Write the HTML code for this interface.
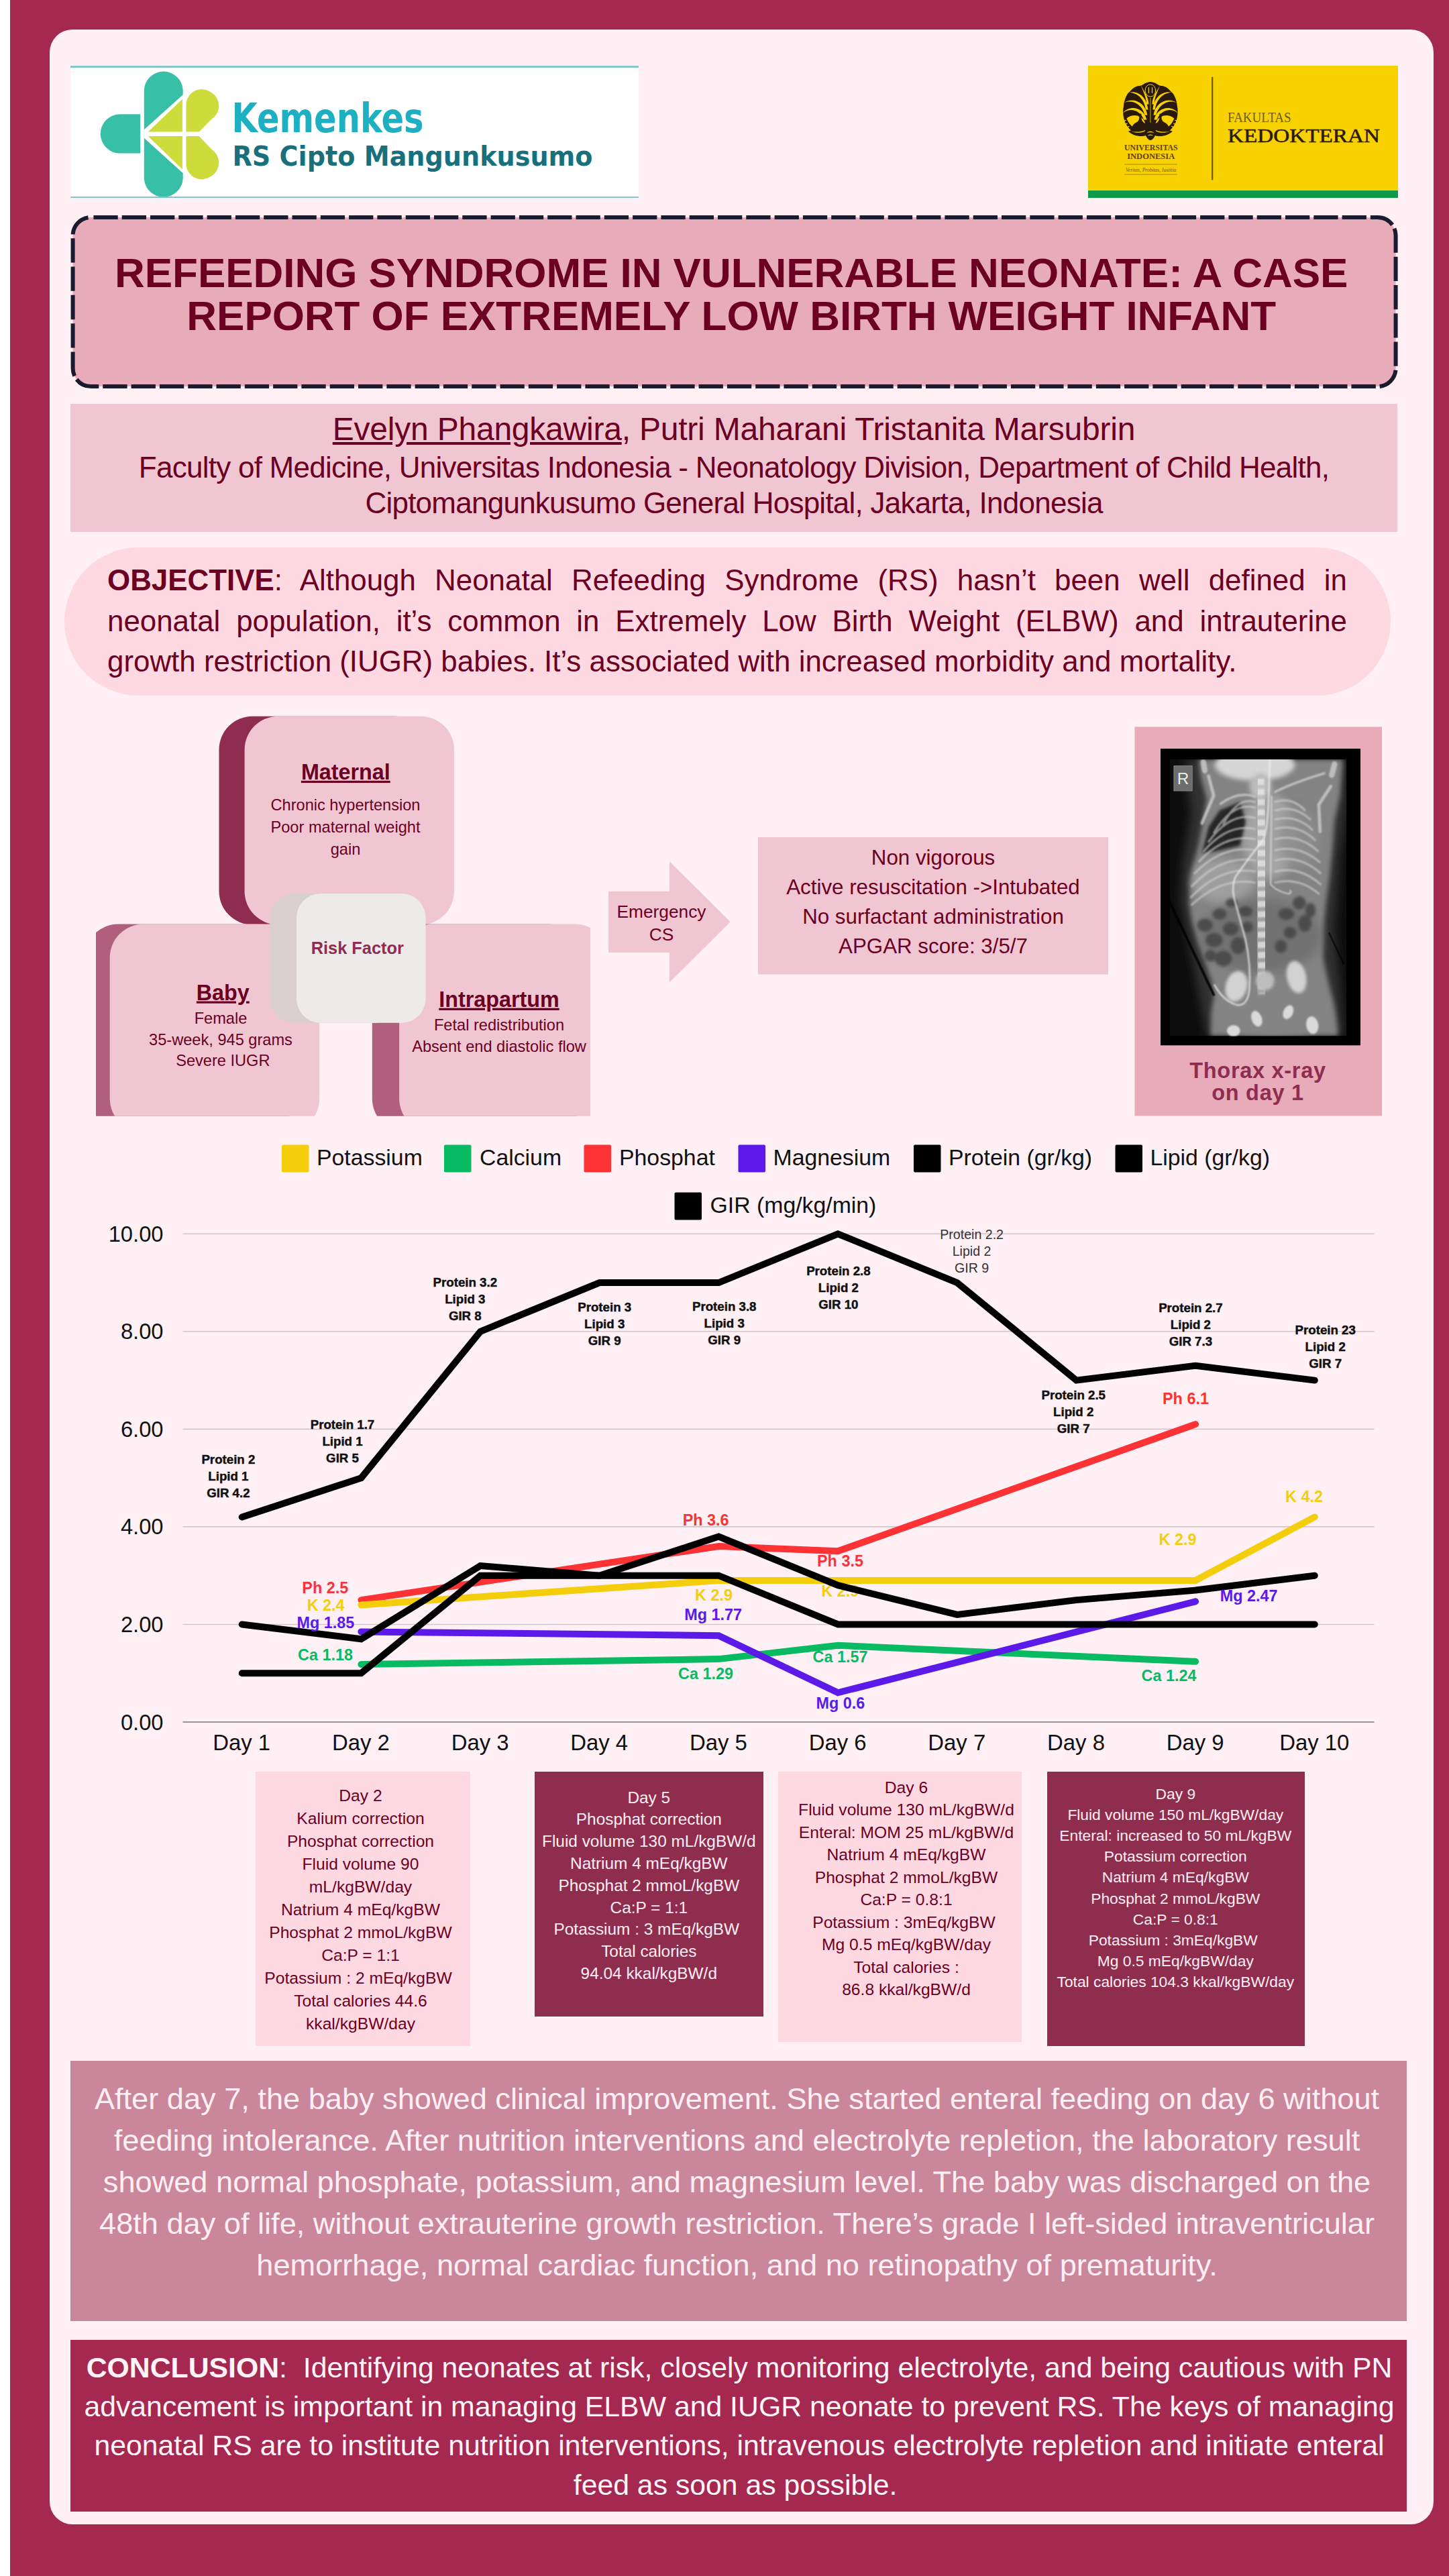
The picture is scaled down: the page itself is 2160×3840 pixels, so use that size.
<!DOCTYPE html>
<html lang="en">
<head>
<meta charset="utf-8">
<title>Refeeding Syndrome in Vulnerable Neonate</title>
<style>
*{box-sizing:border-box;margin:0;padding:0}
html,body{width:2160px;height:3840px;overflow:hidden}
body{background:#A52851;font-family:"Liberation Sans",Arial,sans-serif;position:relative;color:#6B0022}
.abs{position:absolute}
#strip{left:0;top:0;width:15px;height:3840px;background:#fff}
#card{left:74px;top:44px;width:2063px;height:3719px;background:#FFF0F5;border-radius:34px}
#kem{left:105px;top:98px;width:847px;height:197px;background:#fff;border-top:3px solid #86C4CE;border-bottom:2px solid #86C4CE}
#fkui{left:1622px;top:98px;width:462px;height:197px;background:#F8D100;border-bottom:11px solid #0E9A48}
#title{left:105px;top:320px;width:1980px;height:260px}
#titletext{left:100.2px;top:375px;width:1980px;text-align:center;font-weight:bold;font-size:62px;line-height:64.3px;letter-spacing:-0.05px;color:#6B0022;white-space:nowrap}
#auth{left:105px;top:602px;width:1978px;height:191px;background:#F0C6D3;text-align:center;color:#6B0022}
#auth .l1{position:absolute;left:0;width:100%;top:11.4px;font-size:48px;line-height:54px;letter-spacing:-0.22px}
#auth .l2{position:absolute;left:0;width:100%;top:67.7px;font-size:44px;line-height:54px;letter-spacing:-0.74px}
#auth .l3{position:absolute;left:0;width:100%;top:121.4px;font-size:44px;line-height:54px;letter-spacing:-0.75px}
#obj{left:96px;top:816px;width:1977px;height:221px;background:#FFD9E2;border-radius:111px}
#objtext{left:160px;top:835px;width:1848px;font-size:43.88px;line-height:60.7px;text-align:justify;color:#6B0022}
#objtext div{text-align:justify;text-align-last:justify;white-space:nowrap}
#objtext div.last{text-align-last:left}
#disc{left:105px;top:3072px;width:1992px;height:388px;background:#CA879C}
#disctext{left:102.5px;top:3098px;width:1992px;text-align:center;font-size:45.17px;line-height:62px;color:#FFEEF3;white-space:nowrap}
#conc{left:105px;top:3488px;width:1992px;height:256px;background:#A52851}
#conctext{left:106px;top:3499.5px;width:1992px;text-align:center;font-size:42.78px;line-height:58.4px;color:#FFF4F7;white-space:nowrap}
.daytxt{text-align:center;white-space:nowrap}
</style>
</head>
<body>
<div id="strip" class="abs"></div>
<div id="card" class="abs"></div>

<!-- LOGOS -->
<div id="kem" class="abs"></div>
<svg class="abs" style="left:105px;top:98px;width:847px;height:197px" viewBox="105 98 847 197">
<defs><clipPath id="kc"><rect x="105" y="101" width="847" height="192"/></clipPath><filter id="kb"><feGaussianBlur stdDeviation="0.7"/></filter></defs>
<g clip-path="url(#kc)" filter="url(#kb)">
<path d="M214.8,193.2 L214.8,133.9 A29.0,29.0 0 0 1 272.7,133.9 L272.7,141.3 Z" fill="#38BFA7"/>
<path d="M214.8,205.7 L214.8,266.4 A29.0,29.0 0 0 0 272.7,266.4 L272.7,258.1 Z" fill="#38BFA7"/>
<path d="M209.2,170.3 L178.9,170.3 A29.1,29.1 0 0 0 178.9,228.6 L209.2,228.6 Z" fill="#38BFA7"/>
<polygon points="220.8,196.5 271.9,147.7 271.9,196.5" fill="#CDDB3A"/>
<polygon points="220.8,202.9 271.9,202.9 271.9,252.6" fill="#CDDB3A"/>
<path d="M277.4,196.5 L277.4,154.6 A23.5,23.5 0 0 1 314.1,137.2 A23.5,23.5 0 0 1 315.5,177.5 L296.8,196.5 Z" fill="#CDDB3A"/>
<path d="M277.4,202.9 L277.4,245.7 A23.5,23.5 0 0 0 314.1,263.1 A23.5,23.5 0 0 0 315.5,222.8 L296.8,202.9 Z" fill="#CDDB3A"/>
</g>
<text x="345.5" y="196.8" font-family="'DejaVu Sans Condensed','DejaVu Sans',sans-serif" font-weight="bold" font-size="61" fill="#1CB0C2" textLength="286" lengthAdjust="spacingAndGlyphs">Kemenkes</text>
<text x="346.5" y="247.3" font-family="'DejaVu Sans Condensed','DejaVu Sans',sans-serif" font-weight="bold" font-size="40.7" fill="#17707C" textLength="537" lengthAdjust="spacingAndGlyphs">RS Cipto Mangunkusumo</text>
</svg>
<div id="fkui" class="abs"></div>
<svg class="abs" style="left:1622px;top:98px;width:462px;height:197px" viewBox="1622 98 462 197">
<line x1="1807.2" x2="1807.2" y1="114.7" y2="268.3" stroke="#6E5A12" stroke-width="2.2"/>
<g transform="translate(1714.9,165.4)">
<path fill="#2A1A0E" d="M0,-43.5 C9,-43 12,-37 17,-37.5 C25,-37 29,-30 33,-27 C38,-20 39.5,-13 40,-7 C41.5,0 40.5,8 39,13 C37,20 33,25 29,29 L33,30 C27,37 14,39 7,36.5 C5,41 2,43.5 0,43.5 C-2,43.5 -5,41 -7,36.5 C-14,39 -27,37 -33,30 L-29,29 C-33,25 -37,20 -39,13 C-40.5,8 -41.5,0 -40,-7 C-39.5,-13 -38,-20 -33,-27 C-29,-30 -25,-37 -17,-37.5 C-12,-37 -9,-43 0,-43.5 Z"/>
<g fill="#F8D100">
<path d="M-2.5,-10 C-3,-22 -9,-28 -14,-38 C-11,-29 -6.5,-22 -5.5,-10 Z"/>
<path d="M-3.5,-2 C-5,-22 -20,-31 -32,-27.5 C-21,-28 -9,-19 -7,-2 Z"/>
<path d="M-4.5,6 C-8,-14 -27,-21 -39.5,-12 C-27,-17.5 -12.5,-10 -8.5,6 Z"/>
<path d="M-5.5,13 C-10,-5 -30,-10 -41,3 C-30,-5.5 -15,-1 -10,13 Z"/>
<path d="M-7.5,19 C-11,6 -26,3 -35.5,11 C-33,17 -30,21 -26,24 C-20,20 -13,19 -7.5,19 Z"/>
<path d="M-36.6,13.2 L-40.5,14.6 L-40.2,15.8 L-36.2,14.4 Z M-34.6,17.8 L-38.4,19.8 L-37.8,21 L-34,19 Z M-32,22 L-35.4,24.6 L-34.6,25.6 L-31.2,23 Z"/>
<path d="M-8,30 C-14,33 -22,33 -29,30.5 C-22,31.5 -14,31.5 -8,28.5 Z"/>
<path d="M2.5,-10 C3,-22 9,-28 14,-38 C11,-29 6.5,-22 5.5,-10 Z"/>
<path d="M3.5,-2 C5,-22 20,-31 32,-27.5 C21,-28 9,-19 7,-2 Z"/>
<path d="M4.5,6 C8,-14 27,-21 39.5,-12 C27,-17.5 12.5,-10 8.5,6 Z"/>
<path d="M5.5,13 C10,-5 30,-10 41,3 C30,-5.5 15,-1 10,13 Z"/>
<path d="M7.5,19 C11,6 26,3 35.5,11 C33,17 30,21 26,24 C20,20 13,19 7.5,19 Z"/>
<path d="M36.6,13.2 L40.5,14.6 L40.2,15.8 L36.2,14.4 Z M34.6,17.8 L38.4,19.8 L37.8,21 L34,19 Z M32,22 L35.4,24.6 L34.6,25.6 L31.2,23 Z"/>
<path d="M8,30 C14,33 22,33 29,30.5 C22,31.5 14,31.5 8,28.5 Z"/>
<path d="M-5.5,33 C-3,29.5 3,29.5 5.5,33 C3,31.5 -3,31.5 -5.5,33 Z"/><path d="M-4,37 C-2,34.5 2,34.5 4,37 C2,36 -2,36 -4,37 Z"/>
</g>
<g fill="none" stroke="#F8D100" stroke-linecap="round">
<ellipse cx="0" cy="-30.5" rx="7.8" ry="9.2" stroke-width="1"/><path d="M-2.6,-35 L-2.6,-27 M2.6,-35 L2.6,-27" stroke-width="1.2"/><path d="M0,-19 L0,17" stroke-width="0.8"/>
</g>
<g fill="#2A1A0E">
<path d="M-13.5,4.5 C-17.5,3 -19,7 -16.5,9 C-16.5,13 -18,15.5 -21,17 C-24,18.5 -27,21 -27.5,24.5 L-7,21 L-7,18.5 C-11.5,17.5 -13.5,13 -13.5,9 Z"/>
<path d="M13.5,4.5 C17.5,3 19,7 16.5,9 C16.5,13 18,15.5 21,17 C24,18.5 27,21 27.5,24.5 L7,21 L7,18.5 C11.5,17.5 13.5,13 13.5,9 Z"/>
</g>
</g>
<g font-family="'Liberation Serif',serif" fill="#2B1A10">
<text x="1715.7" y="223.6" font-size="12.4" font-weight="bold" fill="#5E400C" text-anchor="middle" textLength="79.5" lengthAdjust="spacingAndGlyphs">UNIVERSITAS</text>
<text x="1715.7" y="236.9" font-size="12.4" font-weight="bold" fill="#5E400C" text-anchor="middle" textLength="71" lengthAdjust="spacingAndGlyphs">INDONESIA</text>
<text x="1715.7" y="256" font-size="7.5" font-style="italic" text-anchor="middle" fill="#6E5A12">Veritas, Probitas, Iustitia</text>
<text x="1830" y="182.2" font-size="20.7" fill="#6E5A12" textLength="94.5" lengthAdjust="spacingAndGlyphs">FAKULTAS</text>
<text x="1830" y="212.4" font-size="28.4" textLength="227" lengthAdjust="spacingAndGlyphs" stroke="#2B1A10" stroke-width="0.55">KEDOKTERAN</text>
</g>
<line x1="1676" x2="1755" y1="245" y2="245" stroke="#8a7420" stroke-width="0.8"/><line x1="1676" x2="1755" y1="260" y2="260" stroke="#8a7420" stroke-width="0.8"/>
</svg>

<!-- TITLE -->
<svg id="title" class="abs" viewBox="0 0 1980 260"><rect x="3.6" y="4" width="1972" height="252.1" rx="27" fill="#E8ABB9" stroke="#1B1B2F" stroke-width="6" stroke-dasharray="36.3 6" stroke-dashoffset="-3.8"/></svg>
<div id="titletext" class="abs">REFEEDING SYNDROME IN VULNERABLE NEONATE: A CASE<br>REPORT OF EXTREMELY LOW BIRTH WEIGHT INFANT</div>

<!-- AUTHORS -->
<div id="auth" class="abs">
<div class="l1"><u>Evelyn Phangkawira</u>, Putri Maharani Tristanita Marsubrin</div>
<div class="l2">Faculty of Medicine, Universitas Indonesia - Neonatology Division, Department of Child Health,</div>
<div class="l3">Ciptomangunkusumo General Hospital, Jakarta, Indonesia</div>
</div>

<!-- OBJECTIVE -->
<div id="obj" class="abs"></div>
<div id="objtext" class="abs"><div><b>OBJECTIVE</b>: Although Neonatal Refeeding Syndrome (RS) hasn’t been well defined in</div><div>neonatal population, it’s common in Extremely Low Birth Weight (ELBW) and intrauterine</div><div class="last">growth restriction (IUGR) babies. It’s associated with increased morbidity and mortality.</div></div>

<!-- RISK -->
<svg id="mid" class="abs" style="left:0;top:1060px;width:2160px;height:620px" viewBox="0 1060 2160 620" font-family="'Liberation Sans',Arial,sans-serif">
<defs><clipPath id="rk"><rect x="143" y="1300" width="737" height="363.8"/></clipPath><filter id="b3" x="-20%" y="-20%" width="140%" height="140%"><feGaussianBlur stdDeviation="3"/></filter><filter id="b8" x="-20%" y="-20%" width="140%" height="140%"><feGaussianBlur stdDeviation="8"/></filter><filter id="b14" x="-30%" y="-30%" width="160%" height="160%"><feGaussianBlur stdDeviation="14"/></filter><filter id="b25" x="-40%" y="-40%" width="180%" height="180%"><feGaussianBlur stdDeviation="25"/></filter><clipPath id="xr"><rect x="230" y="225" width="955" height="1493"/></clipPath></defs>
<rect x="326.5" y="1067.7" width="312.5" height="310.8" rx="50" fill="#8F2D50"/>
<rect x="364.6" y="1067.7" width="312.4" height="310.8" rx="50" fill="#F0C6D3"/>
<g clip-path="url(#rk)">
<rect x="126" y="1377.6" width="312.5" height="310" rx="50" fill="#B0607D"/>
<rect x="163.7" y="1377.6" width="312.5" height="310" rx="50" fill="#F0C6D3"/>
<rect x="554.8" y="1377.6" width="312.5" height="310" rx="50" fill="#B0607D"/>
<rect x="595.1" y="1377.6" width="312.5" height="310" rx="50" fill="#F0C6D3"/>
</g>
<rect x="402.7" y="1332" width="192.5" height="192.8" rx="36" fill="#D9CFCF"/>
<rect x="442" y="1332" width="192.5" height="192.8" rx="36" fill="#EFEAEA"/>
<text x="515.3" y="1161.8" font-size="32.3" text-anchor="middle" fill="#6B0022" font-weight="bold" text-decoration="underline">Maternal</text>
<text x="515" y="1207.9" font-size="23.6" text-anchor="middle" fill="#6B0022">Chronic hypertension</text>
<text x="515" y="1240.7" font-size="23.6" text-anchor="middle" fill="#6B0022">Poor maternal weight</text>
<text x="515" y="1274" font-size="23.6" text-anchor="middle" fill="#6B0022">gain</text>
<text x="332.3" y="1490.5" font-size="32.3" text-anchor="middle" fill="#6B0022" font-weight="bold" text-decoration="underline">Baby</text>
<text x="329" y="1526.4" font-size="23.6" text-anchor="middle" fill="#6B0022">Female</text>
<text x="329" y="1558" font-size="23.6" text-anchor="middle" fill="#6B0022">35-week, 945 grams</text>
<text x="332.3" y="1588.5" font-size="23.6" text-anchor="middle" fill="#6B0022">Severe IUGR</text>
<text x="744" y="1500.7" font-size="32.3" text-anchor="middle" fill="#6B0022" font-weight="bold" text-decoration="underline">Intrapartum</text>
<text x="744" y="1536" font-size="23.6" text-anchor="middle" fill="#6B0022">Fetal redistribution</text>
<text x="744" y="1567.8" font-size="23.6" text-anchor="middle" fill="#6B0022">Absent end diastolic flow</text>
<text x="532.8" y="1421.5" font-size="25.4" text-anchor="middle" fill="#8F2D50" font-weight="bold">Risk Factor</text>
<polygon points="907,1328.8 998,1328.8 998,1284 1088.7,1374.3 998,1464.6 998,1419.9 907,1419.9" fill="#F0C6D3"/>
<text x="986" y="1368" font-size="26.3" text-anchor="middle" fill="#6B0022">Emergency</text>
<text x="986" y="1402" font-size="26.3" text-anchor="middle" fill="#6B0022">CS</text>
<rect x="1130" y="1248" width="522" height="204.5" fill="#F0C6D3"/>
<text x="1391" y="1289" font-size="31.3" text-anchor="middle" fill="#6B0022">Non vigorous</text>
<text x="1391" y="1333.2" font-size="31.3" text-anchor="middle" fill="#6B0022">Active resuscitation -&gt;Intubated</text>
<text x="1391" y="1377.4" font-size="31.3" text-anchor="middle" fill="#6B0022">No surfactant administration</text>
<text x="1391" y="1421" font-size="31.3" text-anchor="middle" fill="#6B0022">APGAR score: 3/5/7</text>
<rect x="1691.5" y="1083.5" width="368.5" height="580" fill="#E8ABB9"/>
<text letter-spacing="0.7" x="1875" y="1607" font-size="32.5" text-anchor="middle" fill="#8F2D50" font-weight="bold">Thorax x-ray</text>
<text letter-spacing="0.7" x="1875" y="1640" font-size="32.5" text-anchor="middle" fill="#8F2D50" font-weight="bold">on day 1</text>
<svg x="1730" y="1116" width="298" height="442.6" viewBox="181 167 1079 1603" preserveAspectRatio="none">
<rect x="181" y="167" width="1079" height="1603" fill="#000"/>
<g clip-path="url(#xr)">
<rect x="230" y="225" width="955" height="1493" fill="#0d0d0d"/>
<path d="M310,225 L345,520 L300,800 L290,1000 L360,1350 L430,1718 L1170,1718 L1150,1450 L1120,1150 L1150,750 L1185,480 L1185,225 Z" fill="#303030" filter="url(#b25)"/>
<path d="M385,225 L400,330 L430,440 L410,560 L385,690 L355,800 L340,900 L335,1000 L350,1100 L380,1200 L420,1320 L455,1420 L470,1500 L455,1600 L450,1718 L1140,1718 L1130,1620 L1110,1520 L1085,1420 L1060,1300 L1060,1150 L1075,1000 L1095,850 L1110,700 L1120,560 L1150,420 L1165,225 Z" fill="#838383" filter="url(#b14)"/>
<ellipse cx="520" cy="880" rx="170" ry="120" fill="#a2a2a2" filter="url(#b25)" opacity="0.9"/>
<ellipse cx="770" cy="640" rx="150" ry="230" fill="#a8a8a8" filter="url(#b25)" opacity="0.9"/>
<ellipse cx="930" cy="650" rx="110" ry="170" fill="#8c8c8c" filter="url(#b25)" opacity="0.8"/>
<ellipse cx="720" cy="1180" rx="330" ry="200" fill="#6c6c6c" filter="url(#b25)" opacity="0.7"/>
<ellipse cx="790" cy="1580" rx="310" ry="150" fill="#858585" filter="url(#b25)" opacity="0.8"/>
<ellipse cx="690" cy="255" rx="215" ry="85" fill="#d6d6d6" filter="url(#b14)"/>
<ellipse cx="720" cy="370" rx="60" ry="70" fill="#bcbcbc" filter="url(#b14)"/>
<path d="M610,455 L500,500 L440,590 L405,730 L470,722 L610,690 L640,560 Z" fill="#262626" filter="url(#b8)"/>
<g fill="#454545" filter="url(#b8)" opacity="0.85"><ellipse cx="420" cy="1120" rx="42" ry="36"/><ellipse cx="500" cy="1060" rx="38" ry="30"/><ellipse cx="470" cy="1200" rx="46" ry="38"/><ellipse cx="560" cy="1140" rx="42" ry="36"/><ellipse cx="600" cy="1230" rx="40" ry="46"/><ellipse cx="520" cy="1300" rx="46" ry="42"/><ellipse cx="450" cy="1285" rx="32" ry="32"/><ellipse cx="640" cy="1045" rx="38" ry="28"/><ellipse cx="860" cy="1060" rx="42" ry="32"/><ellipse cx="930" cy="1000" rx="36" ry="36"/><ellipse cx="960" cy="1110" rx="36" ry="46"/><ellipse cx="880" cy="1160" rx="34" ry="32"/><ellipse cx="990" cy="1040" rx="28" ry="40"/><ellipse cx="830" cy="1235" rx="32" ry="36"/><ellipse cx="565" cy="1000" rx="32" ry="24"/><ellipse cx="650" cy="1130" rx="30" ry="30"/></g>
<g fill="none" stroke="#d4d4d4" stroke-width="11" stroke-linecap="round" filter="url(#b3)" opacity="0.62"><path d="M690,455 Q595.0,425 520,575"/><path d="M690,485 Q570.0,455 470,620"/><path d="M690,540 Q555.0,510 440,670"/><path d="M690,600 Q542.5,570 415,720"/><path d="M690,655 Q530.0,625 390,775"/><path d="M690,715 Q517.5,685 365,840"/><path d="M690,770 Q510.0,740 350,910"/><path d="M690,830 Q507.5,800 345,970"/><path d="M690,890 Q510.0,860 350,1010"/><path d="M800,455 Q890.0,425 960,500"/><path d="M800,500 Q905.0,470 990,550"/><path d="M800,550 Q910.0,520 1000,605"/><path d="M800,600 Q917.5,570 1015,660"/><path d="M800,655 Q925.0,625 1030,720"/><path d="M800,715 Q930.0,685 1040,780"/><path d="M800,770 Q932.5,740 1045,840"/><path d="M800,830 Q932.5,800 1045,900"/><path d="M800,890 Q927.5,860 1035,950"/></g>
<g fill="none" stroke="#cdcdcd" stroke-linecap="round" filter="url(#b3)" opacity="0.8"><path d="M690,425 Q600,395 505,465" stroke-width="12"/><path d="M800,400 Q900,350 1065,300" stroke-width="13"/><path d="M440,315 L468,420 L405,570" stroke-width="17"/><path d="M1100,370 L1035,470 L1042,615" stroke-width="17"/><path d="M412,240 L420,285" stroke-width="30"/><path d="M1120,250 L1105,310" stroke-width="30"/></g>
<path d="M712,330 L738,1490" stroke="#c6c6c6" stroke-width="86" fill="none" filter="url(#b14)" opacity="0.55"/>
<path d="M712,330 L738,1490" stroke="#ececec" stroke-width="56" stroke-dasharray="33 22" fill="none" filter="url(#b3)" opacity="0.7"/>
<g fill="#d2d2d2" filter="url(#b8)"><ellipse cx="590" cy="1450" rx="58" ry="84" transform="rotate(15 590 1450)"/><ellipse cx="915" cy="1400" rx="52" ry="88" transform="rotate(-12 915 1400)"/><ellipse cx="745" cy="1420" rx="50" ry="52" fill="#bdbdbd"/></g>
<g fill="#dadada" filter="url(#b3)"><ellipse cx="700" cy="1625" rx="28" ry="44" transform="rotate(-20 700 1625)"/><ellipse cx="870" cy="1590" rx="26" ry="40" transform="rotate(25 870 1590)"/><ellipse cx="575" cy="1690" rx="36" ry="30"/><ellipse cx="1000" cy="1660" rx="33" ry="48" transform="rotate(-10 1000 1660)"/></g>
<path d="M770,225 L765,420 Q760,600 735,660 Q640,780 585,860 Q560,920 585,1000 L640,1200 Q670,1340 660,1470 Q650,1560 590,1550 Q520,1530 470,1440" fill="none" stroke="#efefef" stroke-width="7" filter="url(#b3)"/>
<path d="M780,420 L775,900 Q800,930 850,945 Q895,960 880,930" fill="none" stroke="#dedede" stroke-width="6" filter="url(#b3)"/>
<path d="M185,900 L470,1500" stroke="#000" stroke-width="14" fill="none" opacity="0.8"/><path d="M1090,1160 L1170,1330" stroke="#000" stroke-width="10" fill="none" opacity="0.6"/>
</g>
<rect x="253" y="260" width="99" height="135" fill="#6d6d6d" stroke="#8c8c8c" stroke-width="3"/>
<text x="302" y="358" font-size="88" text-anchor="middle" fill="#ececec" font-family="'Liberation Sans',Arial,sans-serif">R</text>
</svg>
</svg>
<!-- CHART -->
<svg id="chart" class="abs" style="left:0;top:1690px;width:2160px;height:950px" viewBox="0 1690 2160 950" font-family="'Liberation Sans',Arial,sans-serif">
<rect x="420" y="1706.5" width="40.5" height="41" rx="2" fill="#F4CE0C"/><text x="472" y="1736.5" font-size="33.8" fill="#111">Potassium</text>
<rect x="662" y="1706.5" width="40.5" height="41" rx="2" fill="#08BB62"/><text x="715" y="1736.5" font-size="33.8" fill="#111">Calcium</text>
<rect x="870.5" y="1706.5" width="40.5" height="41" rx="2" fill="#FC3235"/><text x="923" y="1736.5" font-size="33.8" fill="#111">Phosphat</text>
<rect x="1100.5" y="1706.5" width="40.5" height="41" rx="2" fill="#5B1AE8"/><text x="1152.5" y="1736.5" font-size="33.8" fill="#111">Magnesium</text>
<rect x="1362" y="1706.5" width="40.5" height="41" rx="2" fill="#000"/><text x="1414" y="1736.5" font-size="33.8" fill="#111">Protein (gr/kg)</text>
<rect x="1662.5" y="1706.5" width="40.5" height="41" rx="2" fill="#000"/><text x="1714.5" y="1736.5" font-size="33.8" fill="#111">Lipid (gr/kg)</text>
<rect x="1005.5" y="1777.5" width="40.5" height="41" rx="2" fill="#000"/><text x="1058.5" y="1808" font-size="33.8" fill="#111">GIR (mg/kg/min)</text>
<line x1="272.5" x2="2048.5" y1="1839.3" y2="1839.3" stroke="#D2C6CA" stroke-width="1.6"/>
<line x1="272.5" x2="2048.5" y1="1984.8" y2="1984.8" stroke="#D2C6CA" stroke-width="1.6"/>
<line x1="272.5" x2="2048.5" y1="2130.4" y2="2130.4" stroke="#D2C6CA" stroke-width="1.6"/>
<line x1="272.5" x2="2048.5" y1="2275.9" y2="2275.9" stroke="#D2C6CA" stroke-width="1.6"/>
<line x1="272.5" x2="2048.5" y1="2421.5" y2="2421.5" stroke="#D2C6CA" stroke-width="1.6"/>
<line x1="272.5" x2="2048.5" y1="2567.0" y2="2567.0" stroke="#9C9397" stroke-width="2"/>
<text x="243.5" y="1850.8" font-size="32.7" text-anchor="end" fill="#111">10.00</text>
<text x="243.5" y="1996.3" font-size="32.7" text-anchor="end" fill="#111">8.00</text>
<text x="243.5" y="2141.9" font-size="32.7" text-anchor="end" fill="#111">6.00</text>
<text x="243.5" y="2287.4" font-size="32.7" text-anchor="end" fill="#111">4.00</text>
<text x="243.5" y="2433.0" font-size="32.7" text-anchor="end" fill="#111">2.00</text>
<text x="243.5" y="2578.5" font-size="32.7" text-anchor="end" fill="#111">0.00</text>
<text x="360.2" y="2609" font-size="32.9" text-anchor="middle" fill="#111">Day 1</text>
<text x="537.9" y="2609" font-size="32.9" text-anchor="middle" fill="#111">Day 2</text>
<text x="715.6" y="2609" font-size="32.9" text-anchor="middle" fill="#111">Day 3</text>
<text x="893.2" y="2609" font-size="32.9" text-anchor="middle" fill="#111">Day 4</text>
<text x="1070.9" y="2609" font-size="32.9" text-anchor="middle" fill="#111">Day 5</text>
<text x="1248.6" y="2609" font-size="32.9" text-anchor="middle" fill="#111">Day 6</text>
<text x="1426.3" y="2609" font-size="32.9" text-anchor="middle" fill="#111">Day 7</text>
<text x="1604.0" y="2609" font-size="32.9" text-anchor="middle" fill="#111">Day 8</text>
<text x="1781.6" y="2609" font-size="32.9" text-anchor="middle" fill="#111">Day 9</text>
<text x="1959.3" y="2609" font-size="32.9" text-anchor="middle" fill="#111">Day 10</text>
<polyline points="538.4,2385.1 1071.4,2305.0 1249.1,2312.3 1782.1,2123.1" fill="none" stroke="#FC3235" stroke-width="10" stroke-linecap="round" stroke-linejoin="miter"/>
<polyline points="538.4,2392.4 1071.4,2356.0 1249.1,2356.0 1782.1,2356.0 1959.8,2261.4" fill="none" stroke="#F4CE0C" stroke-width="10" stroke-linecap="round" stroke-linejoin="miter"/>
<polyline points="538.4,2481.1 1071.4,2473.1 1249.1,2452.8 1782.1,2476.8" fill="none" stroke="#08BB62" stroke-width="10" stroke-linecap="round" stroke-linejoin="miter"/>
<polyline points="538.4,2432.4 1071.4,2438.2 1249.1,2523.3 1782.1,2387.3" fill="none" stroke="#5B1AE8" stroke-width="10" stroke-linecap="round" stroke-linejoin="miter"/>
<text x="1224.3" y="2379.8" font-size="23.4" font-weight="bold" fill="#F4CE0C">K 2.9</text>
<polyline points="360.7,2421.5 538.4,2443.3 716.1,2334.1 893.7,2348.7 1071.4,2290.5 1249.1,2363.2 1426.8,2406.9 1604.5,2385.1 1782.1,2370.5 1959.8,2348.7" fill="none" stroke="#000" stroke-width="10" stroke-linecap="round" stroke-linejoin="miter"/>
<polyline points="360.7,2494.2 538.4,2494.2 716.1,2348.7 893.7,2348.7 1071.4,2348.7 1249.1,2421.5 1426.8,2421.5 1604.5,2421.5 1782.1,2421.5 1959.8,2421.5" fill="none" stroke="#000" stroke-width="10" stroke-linecap="round" stroke-linejoin="miter"/>
<polyline points="360.7,2261.4 538.4,2203.2 716.1,1984.8 893.7,1912.1 1071.4,1912.1 1249.1,1839.3 1426.8,1912.1 1604.5,2057.6 1782.1,2035.8 1959.8,2057.6" fill="none" stroke="#000" stroke-width="10" stroke-linecap="round" stroke-linejoin="miter"/>
<text x="450.3" y="2374.5" font-size="23.4" font-weight="bold" fill="#FC3235">Ph 2.5</text>
<text x="457.7" y="2401.4" font-size="23.4" font-weight="bold" fill="#F4CE0C">K 2.4</text>
<text x="442.4" y="2427" font-size="23.4" font-weight="bold" fill="#5B1AE8">Mg 1.85</text>
<text x="444" y="2474.7" font-size="23.4" font-weight="bold" fill="#08BB62">Ca 1.18</text>
<text x="1017.7" y="2274.2" font-size="23.4" font-weight="bold" fill="#FC3235">Ph 3.6</text>
<text x="1036" y="2386" font-size="23.4" font-weight="bold" fill="#F4CE0C">K 2.9</text>
<text x="1020.2" y="2415" font-size="23.4" font-weight="bold" fill="#5B1AE8">Mg 1.77</text>
<text x="1011" y="2502.8" font-size="23.4" font-weight="bold" fill="#08BB62">Ca 1.29</text>
<text x="1218" y="2334.7" font-size="23.4" font-weight="bold" fill="#FC3235">Ph 3.5</text>
<text x="1211.5" y="2478.4" font-size="23.4" font-weight="bold" fill="#08BB62">Ca 1.57</text>
<text x="1216.5" y="2547" font-size="23.4" font-weight="bold" fill="#5B1AE8">Mg 0.6</text>
<text x="1733" y="2093" font-size="23.4" font-weight="bold" fill="#FC3235">Ph 6.1</text>
<text x="1916" y="2239" font-size="23.4" font-weight="bold" fill="#F4CE0C">K 4.2</text>
<text x="1727.6" y="2302.8" font-size="23.4" font-weight="bold" fill="#F4CE0C">K 2.9</text>
<text x="1818.7" y="2387.3" font-size="23.4" font-weight="bold" fill="#5B1AE8">Mg 2.47</text>
<text x="1701.5" y="2505.7" font-size="23.4" font-weight="bold" fill="#08BB62">Ca 1.24</text>
<text font-size="18.7" font-weight="bold" fill="#111" text-anchor="middle" stroke="#111" stroke-width="0.45"><tspan x="340.4" y="2182.1">Protein 2</tspan><tspan x="340.4" y="2207.0">Lipid 1</tspan><tspan x="340.4" y="2231.9">GIR 4.2</tspan></text>
<text font-size="18.7" font-weight="bold" fill="#111" text-anchor="middle" stroke="#111" stroke-width="0.45"><tspan x="510.5" y="2130.4">Protein 1.7</tspan><tspan x="510.5" y="2155.3">Lipid 1</tspan><tspan x="510.5" y="2180.2">GIR 5</tspan></text>
<text font-size="18.7" font-weight="bold" fill="#111" text-anchor="middle" stroke="#111" stroke-width="0.45"><tspan x="693.3" y="1918.1">Protein 3.2</tspan><tspan x="693.3" y="1943.0">Lipid 3</tspan><tspan x="693.3" y="1967.9">GIR 8</tspan></text>
<text font-size="18.7" font-weight="bold" fill="#111" text-anchor="middle" stroke="#111" stroke-width="0.45"><tspan x="901.2" y="1955.0">Protein 3</tspan><tspan x="901.2" y="1979.9">Lipid 3</tspan><tspan x="901.2" y="2004.8">GIR 9</tspan></text>
<text font-size="18.7" font-weight="bold" fill="#111" text-anchor="middle" stroke="#111" stroke-width="0.45"><tspan x="1079.7" y="1953.7">Protein 3.8</tspan><tspan x="1079.7" y="1978.6">Lipid 3</tspan><tspan x="1079.7" y="2003.5">GIR 9</tspan></text>
<text font-size="18.7" font-weight="bold" fill="#111" text-anchor="middle" stroke="#111" stroke-width="0.45"><tspan x="1249.9" y="1901.2">Protein 2.8</tspan><tspan x="1249.9" y="1926.1">Lipid 2</tspan><tspan x="1249.9" y="1951.0">GIR 10</tspan></text>
<text font-size="19.6" font-weight="normal" fill="#333" text-anchor="middle"><tspan x="1448.6" y="1846.9">Protein 2.2</tspan><tspan x="1448.6" y="1871.8">Lipid 2</tspan><tspan x="1448.6" y="1896.7">GIR 9</tspan></text>
<text font-size="18.7" font-weight="bold" fill="#111" text-anchor="middle" stroke="#111" stroke-width="0.45"><tspan x="1600.2" y="2086.3">Protein 2.5</tspan><tspan x="1600.2" y="2111.2">Lipid 2</tspan><tspan x="1600.2" y="2136.1">GIR 7</tspan></text>
<text font-size="18.7" font-weight="bold" fill="#111" text-anchor="middle" stroke="#111" stroke-width="0.45"><tspan x="1774.9" y="1956.3">Protein 2.7</tspan><tspan x="1774.9" y="1981.2">Lipid 2</tspan><tspan x="1774.9" y="2006.1">GIR 7.3</tspan></text>
<text font-size="18.7" font-weight="bold" fill="#111" text-anchor="middle" stroke="#111" stroke-width="0.45"><tspan x="1975.7" y="1989.0">Protein 23</tspan><tspan x="1975.7" y="2013.9">Lipid 2</tspan><tspan x="1975.7" y="2038.8">GIR 7</tspan></text>
</svg>
<!-- DAYBOXES -->
<div class="abs" style="left:381px;top:2641px;width:320px;height:409px;background:#FFD9E2"></div>
<div class="abs daytxt" style="left:287.5px;top:2660.0px;width:500px;font-size:24.65px;line-height:34px;color:#6B0022">Day 2<br>Kalium correction<br>Phosphat correction<br>Fluid volume 90<br>mL/kgBW/day<br>Natrium 4 mEq/kgBW<br>Phosphat 2 mmoL/kgBW<br>Ca:P = 1:1<br>Potassium : 2 mEq/kgBW<span style="display:inline-block;width:7px"></span><br>Total calories 44.6<br>kkal/kgBW/day</div>
<div class="abs" style="left:796.5px;top:2641px;width:341px;height:364.7px;background:#8F2D4E"></div>
<div class="abs daytxt" style="left:717.3px;top:2663.6px;width:500px;font-size:24.4px;line-height:32.8px;color:#FFEEF3">Day 5<br>Phosphat correction<br>Fluid volume 130 mL/kgBW/d<br>Natrium 4 mEq/kgBW<br>Phosphat 2 mmoL/kgBW<br>Ca:P = 1:1<br>Potassium : 3 mEq/kgBW<span style="display:inline-block;width:7px"></span><br>Total calories<br>94.04 kkal/kgBW/d</div>
<div class="abs" style="left:1160.4px;top:2641px;width:362.6px;height:403px;background:#FFD9E2"></div>
<div class="abs daytxt" style="left:1101px;top:2647.5px;width:500px;font-size:24.65px;line-height:33.54px;color:#6B0022">Day 6<br>Fluid volume 130 mL/kgBW/d<br>Enteral: MOM 25 mL/kgBW/d<br>Natrium 4 mEq/kgBW<br>Phosphat 2 mmoL/kgBW<br>Ca:P = 0.8:1<br>Potassium : 3mEq/kgBW<span style="display:inline-block;width:7px"></span><br>Mg 0.5 mEq/kgBW/day<br>Total calories :<br>86.8 kkal/kgBW/d</div>
<div class="abs" style="left:1561px;top:2641px;width:384px;height:409px;background:#8F2D4E"></div>
<div class="abs daytxt" style="left:1502.3px;top:2658.6px;width:500px;font-size:22.8px;line-height:31.2px;color:#FFEEF3">Day 9<br>Fluid volume 150 mL/kgBW/day<br>Enteral: increased to 50 mL/kgBW<br>Potassium correction<br>Natrium 4 mEq/kgBW<br>Phosphat 2 mmoL/kgBW<br>Ca:P = 0.8:1<br>Potassium : 3mEq/kgBW<span style="display:inline-block;width:7px"></span><br>Mg 0.5 mEq/kgBW/day<br>Total calories 104.3 kkal/kgBW/day</div>

<!-- DISCUSSION -->
<div id="disc" class="abs"></div>
<div id="disctext" class="abs">After day 7, the baby showed clinical improvement. She started enteral feeding on day 6 without<br>feeding intolerance. After nutrition interventions and electrolyte repletion, the laboratory result<br>showed normal phosphate, potassium, and magnesium level. The baby was discharged on the<br>48th day of life, without extrauterine growth restriction. There’s grade I left-sided intraventricular<br>hemorrhage, normal cardiac function, and no retinopathy of prematurity.</div>

<!-- CONCLUSION -->
<div id="conc" class="abs"></div>
<div id="conctext" class="abs"><b>CONCLUSION</b>:&nbsp; Identifying neonates at risk, closely monitoring electrolyte, and being cautious with PN<br>advancement is important in managing ELBW and IUGR neonate to prevent RS. The keys of managing<br>neonatal RS are to institute nutrition interventions, intravenous electrolyte repletion and initiate enteral<br>feed as soon as possible.&nbsp;</div>

</body>
</html>
